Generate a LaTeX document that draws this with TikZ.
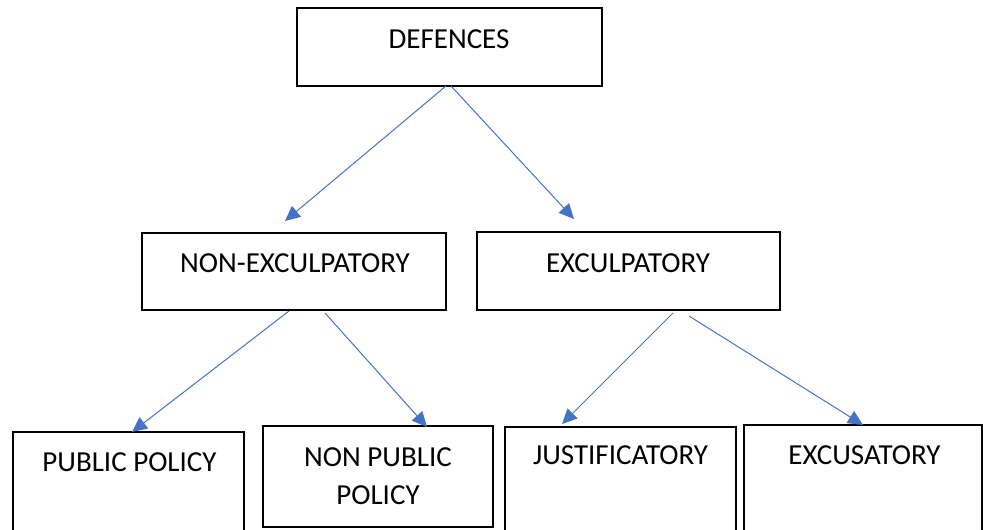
\documentclass[tikz,border=0pt]{standalone}
\usepackage{fontspec}
\setmainfont{Carlito}
\usetikzlibrary{arrows.meta}
\definecolor{arrowblue}{RGB}{68,114,196}
\begin{document}
\begin{tikzpicture}[x=1pt,y=-1pt,
  box/.style={draw=black,line width=1.5pt,inner sep=0pt,outer sep=0pt,fill=none},
  label/.style={inner sep=0pt,outer sep=0pt,font=\fontsize{29}{38}\selectfont,align=center,text=black},
  conn/.style={draw=arrowblue,line width=1pt,-{Triangle[length=15pt,width=14pt]}}]
\useasboundingbox (0,0) rectangle (983,530);
\clip (0,0) rectangle (983,530);
% boxes
\node[box,minimum width=305pt,minimum height=78pt] (def) at (449.5,47) {};
\node[box,minimum width=304pt,minimum height=77pt] (nonexc) at (294,271.5) {};
\node[box,minimum width=303pt,minimum height=78pt] (exc) at (628.5,271) {};
\node[box,minimum width=231pt,minimum height=128pt] (pub) at (128.5,496) {};
\node[box,minimum width=230pt,minimum height=101pt] (npub) at (378,476.5) {};
\node[box,minimum width=231pt,minimum height=133pt] (just) at (620.5,493.5) {};
\node[box,minimum width=238pt,minimum height=135pt] (excu) at (863,492.5) {};
% texts
\node[label] (tdef) at (449,39) {DEFENCES};
\node[label] (tnonexc) at (295,263) {NON-EXCULPATORY};
\node[label] (texc) at (628,263) {EXCULPATORY};
\node[label] (tpub) at (129.5,462) {PUBLIC POLICY};
\node[label] (tnpub) at (378,476) {NON PUBLIC\\POLICY};
\node[label] (tjust) at (620.5,455) {JUSTIFICATORY};
\node[label] (texcu) at (864.5,455) {EXCUSATORY};
% connectors
\draw[conn] ([xshift=-3.5pt]def.south) -- ([xshift=-9pt,yshift=12pt]nonexc.north);
\draw[conn] ([xshift=1.5pt]def.south) -- ([xshift=-54.5pt,yshift=13pt]exc.north);
\draw[conn] ([xshift=-5pt,yshift=-1pt]nonexc.south) -- ([xshift=3.5pt]pub.north);
\draw[conn] ([xshift=31pt,yshift=-3pt]nonexc.south) -- ([xshift=49pt,yshift=-1pt]npub.north);
\draw[conn] ([xshift=44.5pt,yshift=-3pt]exc.south) -- ([xshift=-58.5pt,yshift=3pt]just.north);
\draw[conn] ([xshift=60.5pt,yshift=-6pt]exc.south) -- ([xshift=0pt]excu.north);
\end{tikzpicture}
\end{document}
